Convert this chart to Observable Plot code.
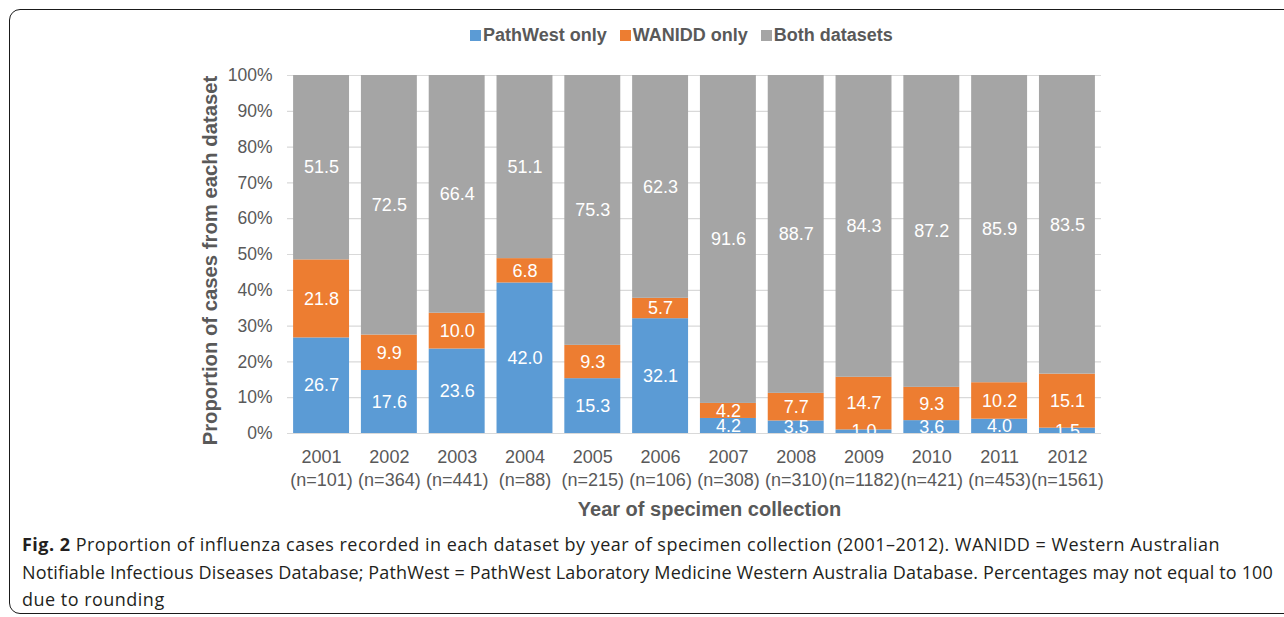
<!DOCTYPE html>
<html><head><meta charset="utf-8">
<script src="https://cdn.jsdelivr.net/npm/d3@7"></script>
<script src="https://cdn.jsdelivr.net/npm/@observablehq/plot@0.6"></script>
<style>
body{margin:0;width:1284px;height:617px;overflow:hidden;background:#fff;position:relative;font-family:"Liberation Sans",Arial,sans-serif;}
#frame{position:absolute;left:9px;top:9px;width:1300px;height:605px;border:1.5px solid #1a1a1a;border-radius:11px;box-sizing:border-box;}
#legend{position:absolute;top:23px;left:470px;display:flex;gap:13px;font-family:"Liberation Sans",Arial,sans-serif;font-weight:bold;font-size:18px;color:#595959;line-height:24px;}
#legend span.sw{display:inline-block;width:11px;height:11px;margin-right:2px;vertical-align:0px;}
#chart{position:absolute;top:55px;left:0;}
#caption{position:absolute;left:22px;top:531px;font-family:"Open Sans",sans-serif;font-size:18px;line-height:27.5px;color:#231f20;white-space:nowrap;}
#caption div span{display:inline-block;}
</style></head>
<body>
<div id="frame"></div>
<div id="legend"></div>
<div id="chart"></div>
<div id="caption"><div><span><b>Fig. 2</b> Proportion of influenza cases recorded in each dataset by year of specimen collection (2001–2012). WANIDD = Western Australian</span></div><div><span>Notifiable Infectious Diseases Database; PathWest = PathWest Laboratory Medicine Western Australia Database. Percentages may not equal to 100</span></div><div><span>due to rounding</span></div></div>
<script>
const years = ["2001","2002","2003","2004","2005","2006","2007","2008","2009","2010","2011","2012"];
const nCases = [101,364,441,88,215,106,308,310,1182,421,453,1561];
const seriesNames = ["PathWest only","WANIDD only","Both datasets"];
const seriesColors = ["#5b9bd5","#ed7d31","#a5a5a5"];
const pathwestOnly = [26.7,17.6,23.6,42.0,15.3,32.1,4.2,3.5,1.0,3.6,4.0,1.5];
const waniddOnly = [21.8,9.9,10.0,6.8,9.3,5.7,4.2,7.7,14.7,9.3,10.2,15.1];
const bothDatasets = [51.5,72.5,66.4,51.1,75.3,62.3,91.6,88.7,84.3,87.2,85.9,83.5];
const yTicks = [0,0.1,0.2,0.3,0.4,0.5,0.6,0.7,0.8,0.9,1];
const xTitle = "Year of specimen collection";
const yTitle = "Proportion of cases from each dataset";

const seriesValues = [pathwestOnly, waniddOnly, bothDatasets];
const rows = [];
seriesNames.forEach((s, i) => years.forEach((y, j) => rows.push({year: y, series: s, value: seriesValues[i][j]})));
const nByYear = new Map(years.map((y, i) => [y, nCases[i]]));

// legend
const leg = document.getElementById("legend");
seriesNames.forEach((s, i) => {
  const d = document.createElement("div");
  d.innerHTML = `<span class="sw" style="background:${seriesColors[i]}"></span>${s}`;
  leg.appendChild(d);
});

const stack = {x: "year", y: "value", z: "series", offset: "normalize", order: null};
const chart = Plot.plot({
  width: 1284,
  height: 470,
  marginLeft: 287,
  marginRight: 183,
  marginTop: 20,
  marginBottom: 92,
  style: {fontFamily: '"Liberation Sans", Arial, sans-serif', fontSize: "18px", color: "#595959", background: "transparent"},
  x: {domain: years, paddingInner: 0.175, paddingOuter: 0.09, round: false, label: null},
  y: {domain: [0, 1], label: null},
  color: {domain: seriesNames, range: seriesColors},
  marks: [
    Plot.gridY(yTicks, {stroke: "#d9d9d9", strokeOpacity: 1, strokeWidth: 1.2}),
    Plot.barY(rows, Plot.stackY({...stack, fill: "series"})),
    Plot.text(rows, Plot.stackY({...stack, text: d => d.value.toFixed(1), fill: "white", fontSize: 18, clip: "frame"})),
    Plot.axisY(yTicks, {tickSize: 0, tickPadding: 15, tickFormat: d3.format(".0%"), fontSize: 17.5, label: null}),
    Plot.axisX({tickSize: 0, tickPadding: 13, lineHeight: 1.28, fontSize: 18, tickFormat: y => `${y}\n(n=${nByYear.get(y)})`, label: null}),
    Plot.text([xTitle], {text: d => d, frameAnchor: "bottom", textAnchor: "middle", dy: 82, dx: 15, fontWeight: "bold", fontSize: 20, fill: "#595959"}),
    Plot.text([yTitle], {text: d => d, frameAnchor: "left", textAnchor: "middle", rotate: -90, dx: -77, dy: 6, fontWeight: "bold", fontSize: 20.3, fill: "#595959"})
  ]
});
document.getElementById("chart").appendChild(chart);

// fit caption lines to the reference line widths
const lineSpans = document.querySelectorAll("#caption div span");
const targets = [1198, 1251];
let spacing0 = 0;
lineSpans.forEach((sp, i) => {
  const chars = sp.textContent.length;
  const w = sp.getBoundingClientRect().width;
  let ls;
  if (i < targets.length) { ls = (targets[i] - w) / chars; if (i === 0) spacing0 = ls; }
  else ls = spacing0;
  sp.style.letterSpacing = ls + "px";
});
</script>
</body></html>
